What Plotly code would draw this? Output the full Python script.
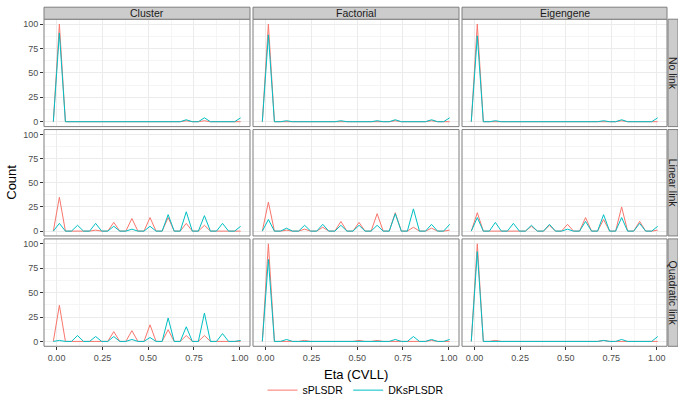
import plotly.graph_objects as go

# ---- data ----
methods = ["Cluster", "Factorial", "Eigengene"]
links = ["No link", "Linear link", "Quadratic link"]
series_names = ["sPLSDR", "DKsPLSDR"]

# bin centres where counts occur (Eta CVLL)
peak_eta = [0.015, 0.114, 0.213, 0.312, 0.411, 0.510, 0.609, 0.708, 0.807, 0.906, 1.005]
# empty bins between them (count 0)
zero_eta = [-0.018, 0.048, 0.081, 0.147, 0.180, 0.246, 0.279, 0.345, 0.378, 0.444, 0.477,
            0.543, 0.576, 0.642, 0.675, 0.741, 0.774, 0.840, 0.873, 0.939, 0.972]

cluster_none_s = [100, 0, 0, 0, 0, 0, 0, 1, 1, 0, 0]
cluster_none_d = [91, 0, 0, 0, 0, 0, 0, 2, 4, 0, 4]
factorial_none_s = [100, 0, 0, 0, 0, 0, 0, 1, 0, 1, 0]
factorial_none_d = [89, 1, 0, 0, 1, 0, 1, 2, 0, 2, 4]
eigengene_none_s = [100, 0, 0, 0, 0, 0, 0, 0, 1, 0, 0]
eigengene_none_d = [88, 1, 0, 0, 0, 0, 0, 1, 2, 0, 4]

cluster_lin_s = [35, 0, 1, 9, 13, 14, 14, 8, 6, 0, 0]
cluster_lin_d = [8, 6, 8, 5, 2, 5, 17, 20, 16, 8, 5]
factorial_lin_s = [30, 1, 2, 4, 10, 9, 18, 19, 4, 3, 1]
factorial_lin_d = [12, 3, 6, 7, 6, 6, 6, 18, 23, 7, 7]
eigengene_lin_s = [19, 0, 0, 5, 6, 7, 14, 12, 25, 10, 1]
eigengene_lin_d = [14, 9, 8, 6, 7, 2, 10, 17, 14, 8, 5]

cluster_quad_s = [37, 0, 0, 10, 11, 17, 12, 6, 6, 0, 0]
cluster_quad_d = [1, 6, 5, 5, 2, 4, 24, 15, 29, 8, 1]
factorial_quad_s = [100, 0, 1, 0, 0, 1, 1, 0, 0, 1, 0]
factorial_quad_d = [84, 2, 0, 0, 0, 0, 0, 2, 5, 2, 2]
eigengene_quad_s = [100, 1, 0, 0, 0, 0, 0, 1, 0, 0, 0]
eigengene_quad_d = [92, 0, 0, 0, 0, 0, 0, 1, 2, 0, 5]

x_ticks = [0, 0.25, 0.5, 0.75, 1.0]
x_ticktext = ["0.00", "0.25", "0.50", "0.75", "1.00"]
y_ticks = [0, 25, 50, 75, 100]
y_ticktext = ["0", "25", "50", "75", "100"]

panel_data = {
    (0, 0): (cluster_none_s, cluster_none_d),
    (0, 1): (factorial_none_s, factorial_none_d),
    (0, 2): (eigengene_none_s, eigengene_none_d),
    (1, 0): (cluster_lin_s, cluster_lin_d),
    (1, 1): (factorial_lin_s, factorial_lin_d),
    (1, 2): (eigengene_lin_s, eigengene_lin_d),
    (2, 0): (cluster_quad_s, cluster_quad_d),
    (2, 1): (factorial_quad_s, factorial_quad_d),
    (2, 2): (eigengene_quad_s, eigengene_quad_d),
}

colors = ["#F8766D", "#00BFC4"]

W, H = 678, 405
col_px = [(44, 250), (253, 459), (462, 667)]
row_px = [(19.5, 128.5), (131.5, 239.5), (242.5, 351.5)]
strip_top = (7.3, 19.5)
strip_right = (668, 678)

FONT = "Liberation Sans, Arial, sans-serif"


def fx(p):
    return p / W


def fy(p):
    return 1 - p / H


def series_xy(counts):
    pts = [(e, c) for e, c in zip(peak_eta, counts)] + [(e, 0) for e in zero_eta]
    pts.sort()
    return [p[0] for p in pts], [p[1] for p in pts]


fig = go.Figure()
layout = {}
shapes = []
annotations = []

for r in range(3):
    for c in range(3):
        idx = r * 3 + c + 1
        xa = "xaxis" if idx == 1 else f"xaxis{idx}"
        ya = "yaxis" if idx == 1 else f"yaxis{idx}"
        xref = "x" if idx == 1 else f"x{idx}"
        yref = "y" if idx == 1 else f"y{idx}"
        x0, x1 = col_px[c]
        y0, y1 = row_px[r]
        bottom = r == 2
        left = c == 0
        layout[xa] = dict(
            domain=[fx(x0), fx(x1)], anchor=yref, range=[-0.069, 1.056],
            tickvals=x_ticks, ticktext=x_ticktext, showticklabels=bottom,
            ticks="outside" if bottom else "", ticklen=3, tickcolor="#333333",
            tickfont=dict(family=FONT, size=9, color="#4D4D4D"),
            showgrid=True, gridcolor="#EBEBEB", gridwidth=1,
            minor=dict(tickvals=[0.125, 0.375, 0.625, 0.875], showgrid=True,
                       gridcolor="#F5F5F5", gridwidth=1),
            zeroline=False, showline=False, fixedrange=True,
        )
        layout[ya] = dict(
            domain=[fy(y1), fy(y0)], anchor=xref, range=[-5, 105],
            tickvals=y_ticks, ticktext=y_ticktext, showticklabels=left,
            ticks="outside" if left else "", ticklen=3, tickcolor="#333333",
            tickfont=dict(family=FONT, size=9, color="#4D4D4D"),
            showgrid=True, gridcolor="#EBEBEB", gridwidth=1,
            minor=dict(tickvals=[12.5, 37.5, 62.5, 87.5], showgrid=True,
                       gridcolor="#F5F5F5", gridwidth=1),
            zeroline=False, showline=False, fixedrange=True,
        )
        s_counts, d_counts = panel_data[(r, c)]
        for k, counts in enumerate([s_counts, d_counts]):
            xs, ys = series_xy(counts)
            fig.add_trace(go.Scatter(
                x=xs, y=ys, mode="lines", name=series_names[k],
                line=dict(color=colors[k], width=1),
                xaxis=xref, yaxis=yref, legendgroup=series_names[k],
                showlegend=(idx == 1),
            ))
        # panel border
        shapes.append(dict(type="rect", xref="paper", yref="paper",
                           x0=fx(x0), x1=fx(x1), y0=fy(y1), y1=fy(y0),
                           line=dict(color="#7F7F7F", width=1), layer="above"))

# top strips
for c in range(3):
    x0, x1 = col_px[c]
    shapes.append(dict(type="rect", xref="paper", yref="paper",
                       x0=fx(x0), x1=fx(x1), y0=fy(strip_top[1]), y1=fy(strip_top[0]),
                       fillcolor="#CCCCCC", line=dict(color="#7F7F7F", width=1)))
    annotations.append(dict(text=methods[c], xref="paper", yref="paper",
                            x=fx((x0 + x1) / 2), y=fy((strip_top[0] + strip_top[1]) / 2),
                            showarrow=False, xanchor="center", yanchor="middle",
                            font=dict(family=FONT, size=10.5, color="#1A1A1A")))
# right strips
for r in range(3):
    y0, y1 = row_px[r]
    shapes.append(dict(type="rect", xref="paper", yref="paper",
                       x0=fx(strip_right[0]), x1=fx(strip_right[1]), y0=fy(y1), y1=fy(y0),
                       fillcolor="#CCCCCC", line=dict(color="#7F7F7F", width=1)))
    annotations.append(dict(text=links[r], xref="paper", yref="paper",
                            x=fx((strip_right[0] + strip_right[1]) / 2),
                            y=fy((y0 + y1) / 2), textangle=90,
                            showarrow=False, xanchor="center", yanchor="middle",
                            font=dict(family=FONT, size=10.5, color="#1A1A1A")))

# axis titles
annotations.append(dict(text="Eta (CVLL)", xref="paper", yref="paper",
                        x=fx(355.5), y=fy(380), showarrow=False,
                        xanchor="center", yanchor="middle",
                        font=dict(family=FONT, size=13, color="#000000")))
annotations.append(dict(text="Count", xref="paper", yref="paper",
                        x=fx(12), y=fy(185.5), showarrow=False, textangle=-90,
                        xanchor="center", yanchor="middle",
                        font=dict(family=FONT, size=13, color="#000000")))

fig.update_layout(
    width=W, height=H, margin=dict(l=0, r=0, t=0, b=0),
    paper_bgcolor="white", plot_bgcolor="white",
    shapes=shapes, annotations=annotations,
    legend=dict(orientation="h", x=fx(355.5), xanchor="center", y=fy(396),
                yanchor="middle", font=dict(family=FONT, size=10.5, color="#000000"),
                itemwidth=30, tracegroupgap=0, bgcolor="rgba(0,0,0,0)"),
    **layout,
)

fig.write_html(
    "out.html",
    config={"displayModeBar": False},
    post_script="document.body.style.margin='0';document.body.style.overflow='hidden';",
)
